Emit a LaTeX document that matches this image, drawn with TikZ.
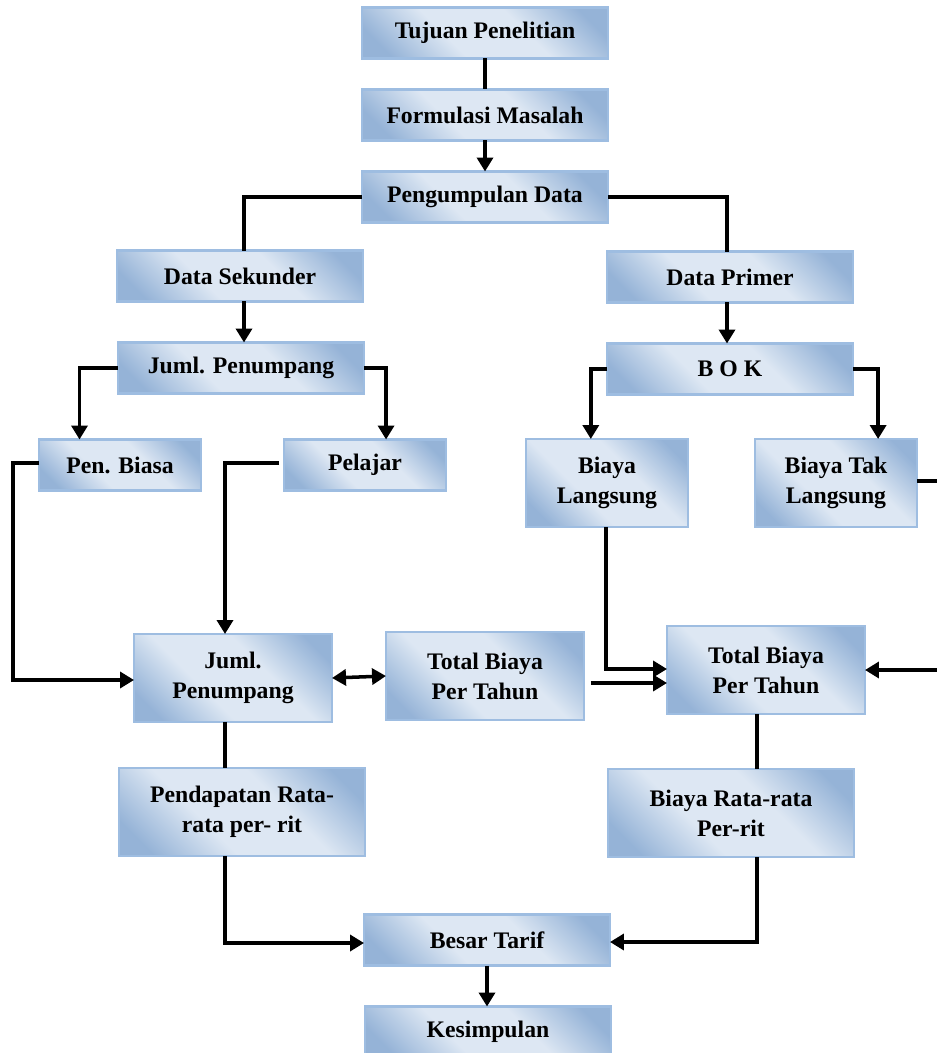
\documentclass[tikz,border=0pt]{standalone}
\usepackage{fontspec}
\setmainfont{Liberation Serif}
\usetikzlibrary{calc, arrows.meta}

\definecolor{boxdark}{RGB}{149,179,215}
\definecolor{boxlight}{RGB}{221,231,243}
\definecolor{boxline}{RGB}{158,189,225}
\pgfdeclarehorizontalshading{boxshade}{100bp}{color(0bp)=(boxdark); color(22bp)=(boxdark); color(40bp)=(boxlight); color(60bp)=(boxlight); color(78bp)=(boxdark); color(100bp)=(boxdark)}

\tikzset{
  box/.style={draw=boxline, line width=1.2pt, shading=boxshade, shading angle=45,
    minimum width=4.92cm, minimum height=1.02cm, inner sep=0pt, outer sep=0pt,
    align=center, font=\bfseries\fontsize{13.5}{17}\selectfont},
  smallbox/.style={box, minimum width=3.24cm},
  tallbox/.style={box, minimum height=1.76cm},
  link/.style={line width=2pt},
  arrow/.style={link, -{Triangle[length=2.8mm, width=3.2mm]}},
  twoway/.style={link, {Triangle[length=2.8mm, width=3.2mm]}-{Triangle[length=2.8mm, width=3.2mm]}},
}

\begin{document}
\begin{tikzpicture}[x=0.02cm, y=-0.02cm]
    \useasboundingbox (0,0) rectangle (936,1053);

    % top chain
    \node[box] (tujuan) at (485,33) {Tujuan Penelitian};
    \node[box] (formulasi) at (485,115) {Formulasi Masalah};
    \node[box] (pengumpulan) at (485,197) {Pengumpulan Data};

    % secondary data side
    \node[box] (sekunder) at (240,276) {Data Sekunder};
    \node[box] (jumlah) at (241,368) {Juml. Penumpang};
    \node[smallbox] (biasa) at (120,465) {Pen. Biasa};
    \node[smallbox] (pelajar) at (365,465) {Pelajar};

    % primary data side
    \node[box] (primer) at (730,277) {Data Primer};
    \node[box] (bok) at (730,369) {B O K};
    \node[smallbox, minimum height=1.76cm] (langsung) at (607,483) {Biaya\\Langsung};
    \node[smallbox, minimum height=1.76cm] (taklangsung) at (836,483) {Biaya Tak\\Langsung};

    % middle row
    \node[tallbox, minimum width=3.96cm] (rata) at (233,678) {Juml.\\Penumpang};
    \node[tallbox, minimum width=3.96cm] (totala) at (485,676) {Total Biaya\\Per Tahun};
    \node[tallbox, minimum width=3.96cm] (totalb) at (766,670) {Total Biaya\\Per Tahun};

    % per-rit row and result
    \node[tallbox] (pendapatan) at (242,812) {Pendapatan Rata-\\rata per- rit};
    \node[tallbox] (biayarr) at (731,813) {Biaya Rata-rata\\Per-rit};
    \node[box] (besar) at (487,940) {Besar Tarif};
    \node[box] (kesimpulan) at (488,1032) {Kesimpulan};

    % vertical rails
    \coordinate (colL) at (225,0);
    \coordinate (colR) at (757,0);

    % connectors
    \draw[link] (tujuan) -- (formulasi);
    \draw[arrow] (formulasi) -- (pengumpulan);
    \draw[link] (pengumpulan.west) -| ($(sekunder.north)+(4,0)$);
    \draw[link] (pengumpulan.east) -| ($(primer.north)+(-3,0)$);
    \draw[arrow] ($(sekunder.south)+(4,0)$) -- ($(jumlah.north)+(3,0)$);
    \draw[arrow] ($(primer.south)+(-3,0)$) -- ($(bok.north)+(-3,0)$);

    \draw[arrow] (jumlah.west) -| ($(biasa.north west)!0.25!(biasa.north east)$);
    \draw[arrow] (jumlah.east) -| ($(pelajar.north west)!0.63!(pelajar.north east)$);
    \draw[arrow] (bok.west) -| ($(langsung.north west)!0.4!(langsung.north east)$);
    \draw[arrow] (bok.east) -| ($(taklangsung.north west)!0.76!(taklangsung.north east)$);

    \draw[arrow] ($(biasa.west)+(0,-2)$) -- ++(-26,0) |- ($(rata.west)+(0,2)$);
    \draw[arrow] ($(pelajar.west)+(-5,-2)$) -| (rata.north -| colL);
    \draw[twoway] (rata.east) -- (totala.west);
    \draw[arrow] ($(totala.east)+(7,7)$) -- ($(totalb.west)+(0,13)$);
    \draw[arrow] ($(langsung.south)+(-1,0)$) |- ($(totalb.west)+(0,-1)$);
    \draw[arrow] ($(taklangsung.east)+(0,-2)$) -- ++(40,0) |- (totalb.east);

    \draw[link] (rata.south -| colL) -- (pendapatan.north -| colL);
    \draw[link] (totalb.south -| colR) -- (biayarr.north -| colR);
    \draw[arrow] (pendapatan.south -| colL) |- ($(besar.west)+(0,3)$);
    \draw[arrow] (biayarr.south -| colR) |- ($(besar.east)+(0,2)$);
    \draw[arrow] (besar) -- (besar |- kesimpulan.north);
\end{tikzpicture}
\end{document}
